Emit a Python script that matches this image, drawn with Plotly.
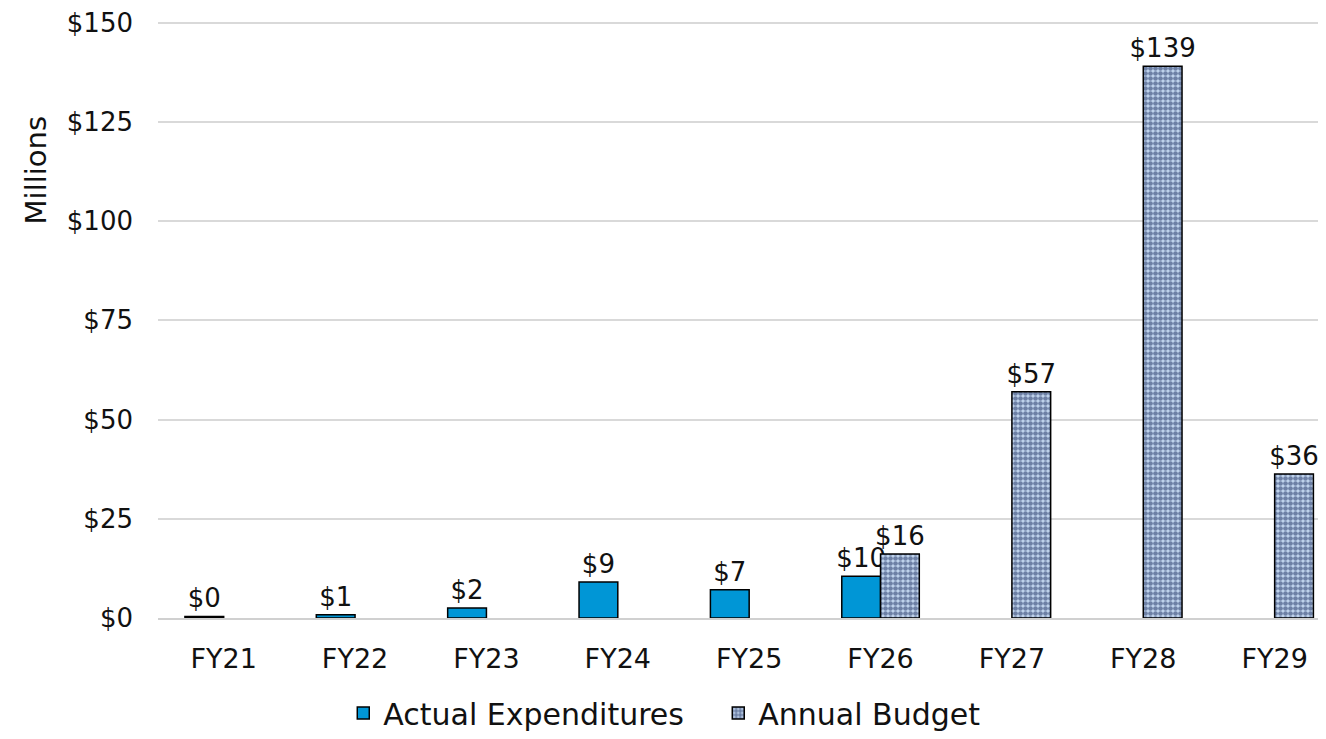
import plotly.graph_objects as go

years = ["FY21", "FY22", "FY23", "FY24", "FY25", "FY26", "FY27", "FY28", "FY29"]
actual = [0.4, 0.8, 2.5, 9.1, 7.1, 10.5, None, None, None]
budget = [None, None, None, None, None, 16.1, 57.0, 139.0, 36.3]

FONT = "'DejaVu Sans', sans-serif"
TXT = dict(size=26, color="#111")

fig = go.Figure()
fig.add_trace(go.Bar(
    x=years, y=actual, name="Actual Expenditures",
    marker=dict(color="#0096d6", line=dict(color="black", width=1.5)),
    text=[f"${v:.0f}" if v is not None else "" for v in actual],
    textposition="outside", cliponaxis=False, constraintext="none",
    textfont=TXT, outsidetextfont=TXT,
))
fig.add_trace(go.Bar(
    x=years, y=budget, name="Annual Budget",
    marker=dict(
        color="#c6d9f1",
        line=dict(color="black", width=1.5),
        pattern=dict(shape=".", fgcolor="#13285a", bgcolor="#c6d9f1", size=5, solidity=0.7),
    ),
    text=[f"${v:.0f}" if v is not None else "" for v in budget],
    textposition="outside", cliponaxis=False, constraintext="none",
    textfont=TXT, outsidetextfont=TXT,
))

fig.add_annotation(
    text="Millions", textangle=-90, xref="paper", yref="paper",
    x=-0.105, y=0.75, xanchor="center", yanchor="middle",
    showarrow=False, font=dict(size=29, color="#111"),
)

fig.update_layout(
    width=1310, height=723,
    barmode="group", bargap=0.41, bargroupgap=0,
    plot_bgcolor="white", paper_bgcolor="white",
    font=dict(family=FONT, size=27, color="#111"),
    margin=dict(l=150, r=0, t=13, b=113, autoexpand=False),
    legend=dict(orientation="h", x=0.483, xanchor="center", yref="container",
                y=0.025, yanchor="middle",
                font=dict(size=30), itemwidth=30, entrywidth=330, traceorder="normal"),
    xaxis=dict(range=[-0.5, 8.33], showline=True, linecolor="#d0d0d0", linewidth=2,
               ticks="", ticklabelstandoff=16, tickfont=dict(size=27), automargin=False),
    yaxis=dict(range=[0, 150.4], dtick=25, tickprefix="$", ticklabeloverflow="allow",
               showgrid=True, gridcolor="#d9d9d9", gridwidth=1.5, zeroline=False, ticks="",
               ticklabelstandoff=24, tickfont=dict(size=26), automargin=False),
)

fig.write_html("out.html")
